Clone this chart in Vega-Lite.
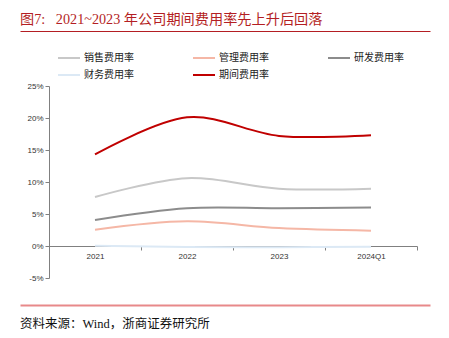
{
  "$schema": "https://vega.github.io/schema/vega-lite/v6.json",
  "background": "white",
  "padding": {"left": 20, "top": 12, "right": 0, "bottom": 0},
  "columns": 1,
  "align": "none",
  "spacing": 20,
  "config": {
    "view": {"stroke": null},
    "font": "Liberation Sans, Noto Sans CJK SC",
    "legend": {
      "orient": "none",
      "legendX": 8,
      "legendY": 15,
      "direction": "horizontal",
      "columns": 3,
      "gridAlign": "all",
      "columnPadding": 55,
      "rowPadding": 0,
      "symbolType": "stroke",
      "symbolSize": 484,
      "symbolStrokeWidth": 2,
      "symbolOffset": 0,
      "labelOffset": 3,
      "labelFont": "Liberation Serif, Noto Sans CJK SC",
      "labelFontSize": 10,
      "labelColor": "#222222",
      "labelLimit": 200,
      "title": null
    }
  },
  "datasets": {
    "rates": [
      {"period": "2021", "series": "销售费用率", "rate": 7.65},
      {"period": "2022", "series": "销售费用率", "rate": 10.6},
      {"period": "2023", "series": "销售费用率", "rate": 8.95},
      {"period": "2024Q1", "series": "销售费用率", "rate": 8.95},
      {"period": "2021", "series": "管理费用率", "rate": 2.55},
      {"period": "2022", "series": "管理费用率", "rate": 3.85},
      {"period": "2023", "series": "管理费用率", "rate": 2.8},
      {"period": "2024Q1", "series": "管理费用率", "rate": 2.4},
      {"period": "2021", "series": "研发费用率", "rate": 4.06},
      {"period": "2022", "series": "研发费用率", "rate": 5.9},
      {"period": "2023", "series": "研发费用率", "rate": 5.9},
      {"period": "2024Q1", "series": "研发费用率", "rate": 6.0},
      {"period": "2021", "series": "财务费用率", "rate": 0.05},
      {"period": "2022", "series": "财务费用率", "rate": -0.15},
      {"period": "2023", "series": "财务费用率", "rate": -0.2},
      {"period": "2024Q1", "series": "财务费用率", "rate": -0.1},
      {"period": "2021", "series": "期间费用率", "rate": 14.3},
      {"period": "2022", "series": "期间费用率", "rate": 20.1},
      {"period": "2023", "series": "期间费用率", "rate": 17.2},
      {"period": "2024Q1", "series": "期间费用率", "rate": 17.3}
    ]
  },
  "concat": [
    {
      "width": 410,
      "height": 31,
      "title": {
        "text": "图7:\u00a0\u00a0\u00a02021~2023 年公司期间费用率先上升后回落",
        "anchor": "start",
        "font": "Liberation Serif, Noto Sans CJK SC",
        "fontSize": 14.2,
        "fontWeight": "normal",
        "color": "#B41E23",
        "offset": 4
      },
      "data": {"values": [{}]},
      "mark": {"type": "text"},
      "encoding": {
        "text": {"value": ""},
        "x": {
          "datum": 0,
          "type": "quantitative",
          "scale": {"domain": [0, 1]},
          "axis": {
            "orient": "top",
            "position": -29,
            "title": null,
            "labels": false,
            "ticks": false,
            "grid": false,
            "domainColor": "#B41E23",
            "domainWidth": 1
          }
        }
      }
    },
    {
      "width": 368,
      "height": 192,
      "data": {"name": "rates"},
      "mark": {"type": "line", "interpolate": "cardinal", "strokeWidth": 2},
      "encoding": {
        "x": {
          "field": "period",
          "type": "ordinal",
          "scale": {"type": "band", "paddingInner": 0, "paddingOuter": 0},
          "axis": {
            "title": null,
            "offset": -32,
            "labelAngle": 0,
            "tickBand": "extent",
            "tickSize": 4,
            "tickColor": "#808080",
            "domainColor": "#808080",
            "labelFontSize": 8,
            "labelColor": "#333333",
            "labelPadding": 2
          }
        },
        "y": {
          "field": "rate",
          "type": "quantitative",
          "scale": {"domain": [-5, 25], "nice": false, "zero": false},
          "axis": {
            "title": null,
            "values": [-5, 0, 5, 10, 15, 20, 25],
            "labelExpr": "datum.value + '%'",
            "grid": false,
            "tickSize": 4,
            "tickColor": "#808080",
            "domainColor": "#808080",
            "labelFontSize": 8,
            "labelColor": "#333333",
            "labelPadding": 2,
            "minExtent": 29
          }
        },
        "color": {
          "field": "series",
          "type": "nominal",
          "scale": {
            "domain": ["销售费用率", "管理费用率", "研发费用率", "财务费用率", "期间费用率"],
            "range": ["#C8C8C8", "#F5B7A6", "#8C8C8C", "#DCE9F5", "#C00000"]
          }
        }
      }
    },
    {
      "width": 410,
      "height": 1,
      "title": {
        "text": "资料来源：Wind，浙商证券研究所",
        "orient": "bottom",
        "anchor": "start",
        "font": "Liberation Serif, Noto Sans CJK SC",
        "fontSize": 12.5,
        "fontWeight": "normal",
        "color": "#111111",
        "offset": 4
      },
      "data": {"values": [{}]},
      "mark": {"type": "text"},
      "encoding": {
        "text": {"value": ""},
        "x": {
          "datum": 0,
          "type": "quantitative",
          "scale": {"domain": [0, 1]},
          "axis": {
            "orient": "top",
            "position": -29,
            "offset": 3,
            "title": null,
            "labels": false,
            "ticks": false,
            "grid": false,
            "domainColor": "#E8898A",
            "domainWidth": 2
          }
        }
      }
    }
  ]
}
